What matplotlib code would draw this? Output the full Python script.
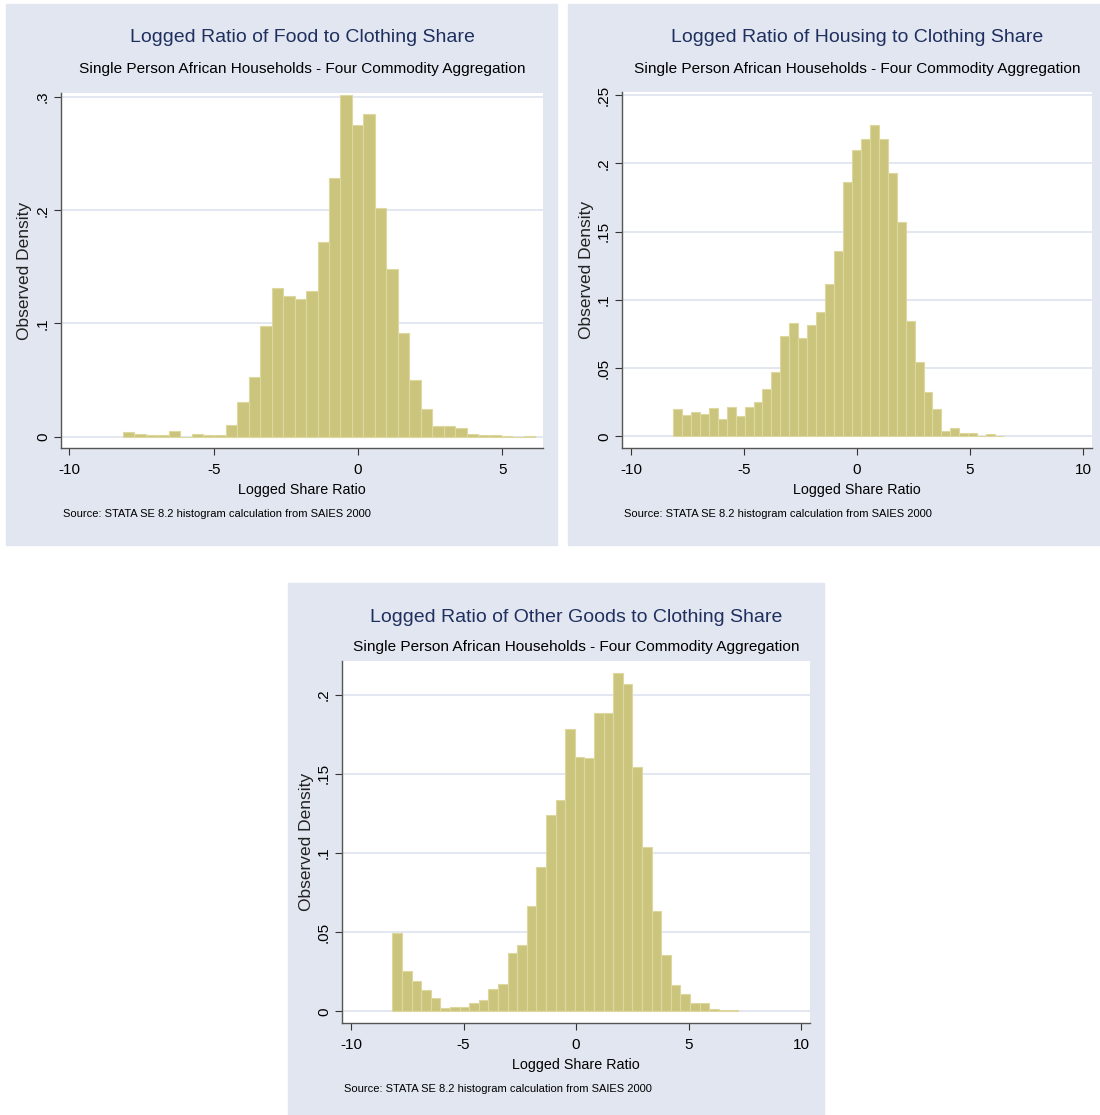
import numpy as np
import matplotlib.pyplot as plt
from matplotlib.patches import Rectangle

W, H = 1100, 1115
plt.rcParams.update({'font.family': ['Liberation Sans', 'DejaVu Sans'],
                     'axes.unicode_minus': False})

# histogram bins: first edge, bin width, densities
food_start, food_width = -8.15, 0.397
food_density = [0.0044, 0.0020, 0.0012, 0.0012, 0.0053, 0.0, 0.0020, 0.0015, 0.0015,
                0.0100, 0.0306, 0.0527, 0.0980, 0.1316, 0.1242, 0.1220, 0.1290, 0.1716,
                0.2284, 0.3020, 0.2750, 0.2850, 0.2022, 0.1478, 0.0913, 0.0500, 0.0247,
                0.0091, 0.0091, 0.0074, 0.0026, 0.0012, 0.0018, 0.0006, 0.0, 0.0006]

housing_start, housing_width = -8.144, 0.396
housing_density = [0.0200, 0.0159, 0.0176, 0.0163, 0.0207, 0.0127, 0.0215, 0.0146, 0.0215,
                   0.0254, 0.0349, 0.0468, 0.0734, 0.0829, 0.0722, 0.0815, 0.0910, 0.1115,
                   0.1359, 0.1861, 0.2100, 0.2176, 0.2278, 0.2176, 0.1932, 0.1570, 0.0844,
                   0.0544, 0.0324, 0.0200, 0.0041, 0.0059, 0.0024, 0.0024, 0.0005, 0.0020,
                   0.0005]

other_start, other_width = -8.164, 0.4267
other_density = [0.0498, 0.0258, 0.0191, 0.0134, 0.0082, 0.0023, 0.0027, 0.0027, 0.0055,
                 0.0071, 0.0139, 0.0176, 0.0370, 0.0420, 0.0668, 0.0914, 0.1240, 0.1334,
                 0.1780, 0.1607, 0.1600, 0.1884, 0.1884, 0.2137, 0.2065, 0.1544, 0.1040,
                 0.0637, 0.0359, 0.0166, 0.0113, 0.0055, 0.0055, 0.0015, 0.0008, 0.0008]

titles = ['Logged Ratio of Food to Clothing Share',
          'Logged Ratio of Housing to Clothing Share',
          'Logged Ratio of Other Goods to Clothing Share']
subtitle = 'Single Person African Households - Four Commodity Aggregation'
source = 'Source: STATA SE 8.2 histogram calculation from SAIES 2000'

xticks_food = [-10, -5, 0, 5]
xticks_full = [-10, -5, 0, 5, 10]
yticks_food = [0, 0.1, 0.2, 0.3]
ylabels_food = ['0', '.1', '.2', '.3']
yticks_housing = [0, 0.05, 0.1, 0.15, 0.2, 0.25]
ylabels_housing = ['0', '.05', '.1', '.15', '.2', '.25']
yticks_other = [0, 0.05, 0.1, 0.15, 0.2]
ylabels_other = ['0', '.05', '.1', '.15', '.2']

bg = '#e1e6f0'
bar_col = '#cbc47c'
grid_col = '#dde3ef'
title_col = '#1f2f5e'

fig = plt.figure(figsize=(W/100, H/100), dpi=100, facecolor='white')

def prect(x0, y0, x1, y1):
    return [x0/W, 1 - y1/H, (x1-x0)/W, (y1-y0)/H]

def panel(box, axbox, heads, start, width, dens, title, xticks, xlim, yticks, ylabels, ylim):
    x0, y0, x1, y1 = box
    fig.patches.append(Rectangle((x0/W, 1-y1/H), (x1-x0)/W, (y1-y0)/H,
                                 transform=fig.transFigure, color=bg, zorder=-10))
    ax = fig.add_axes(prect(*axbox))
    edges = start + width*np.arange(len(dens))
    ax.bar(edges, dens, width=width, align='edge', color=bar_col,
           edgecolor='#ddd8a0', linewidth=0.8, zorder=2)
    ax.set_xlim(xlim)
    ax.set_ylim(ylim)
    ax.set_xticks(xticks)
    ax.set_yticks(yticks)
    ax.set_yticklabels(ylabels, rotation=90, va='center')
    ax.grid(axis='y', color=grid_col, linewidth=1.2, zorder=0)
    ax.set_axisbelow(True)
    for s in ['top', 'right']:
        ax.spines[s].set_visible(False)
    for s in ['left', 'bottom']:
        ax.spines[s].set_color('#555555')
        ax.spines[s].set_linewidth(1.0)
    ax.tick_params(direction='out', length=5, width=0.8, color='#333333',
                   labelsize=11, pad=6)
    ax.tick_params(axis='y', pad=3)
    ax_l, ax_t, ax_r, ax_b = axbox
    cx = (ax_l + ax_r)/2
    fig.text(cx/W, 1 - heads[0]/H, title, ha='center', va='center',
             fontsize=14, color=title_col)
    fig.text(cx/W, 1 - heads[1]/H, subtitle, ha='center', va='center',
             fontsize=11.1, color='black')
    fig.text(cx/W, 1 - (ax_b + 42)/H, 'Logged Share Ratio', ha='center', va='center',
             fontsize=10.3, color='black')
    fig.text((ax_l + 2)/W, 1 - (ax_b + 66)/H, source, ha='left', va='center',
             fontsize=8.0, color='black')
    fig.text((ax_l - 36)/W, 1 - ((ax_t + ax_b)/2)/H, 'Observed Density', ha='center',
             va='center', rotation=90, fontsize=12.5, color='#222222')
    return ax

panel((6, 4, 557, 545), (61, 93, 543, 448), (38, 69), food_start, food_width, food_density,
      titles[0], xticks_food, (-10.29, 6.41), yticks_food, ylabels_food, (-0.0101, 0.3036))
panel((568, 4, 1100, 545), (622, 92, 1092, 448), (38, 69), housing_start, housing_width,
      housing_density, titles[1], xticks_full, (-10.4, 10.4), yticks_housing,
      ylabels_housing, (-0.0085, 0.2522))
panel((288, 583, 824, 1115), (342, 661, 810, 1023), (617, 647), other_start, other_width,
      other_density, titles[2], xticks_full, (-10.4, 10.4), yticks_other,
      ylabels_other, (-0.0073, 0.2212))

fig.savefig('out.png', dpi=100, facecolor='white')
